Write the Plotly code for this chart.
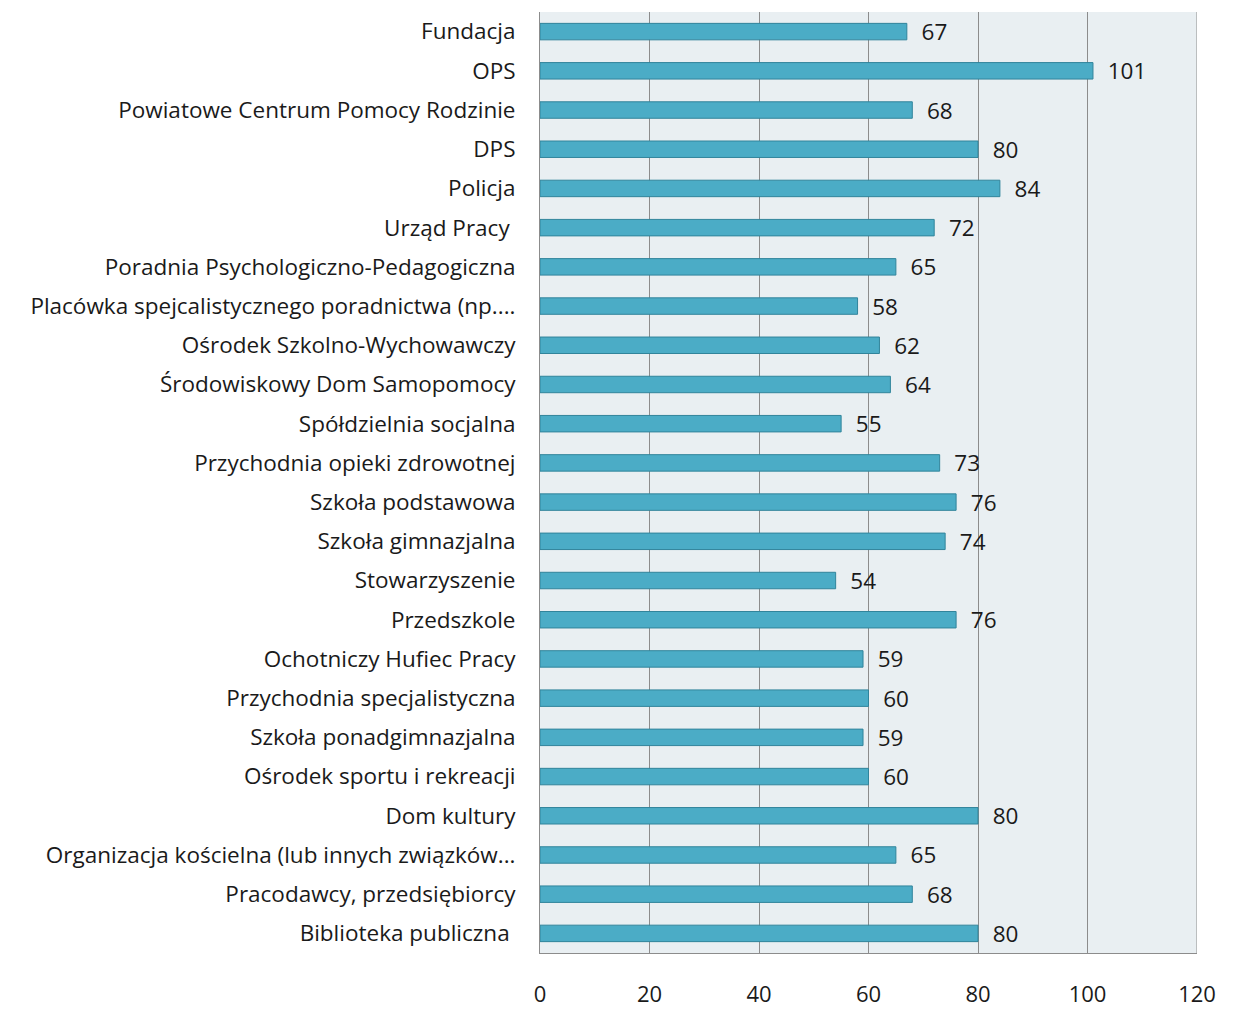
import plotly.graph_objects as go

categories = [
    "Fundacja",
    "OPS",
    "Powiatowe Centrum Pomocy Rodzinie",
    "DPS",
    "Policja",
    "Urząd Pracy ",
    "Poradnia Psychologiczno-Pedagogiczna",
    "Placówka spejcalistycznego poradnictwa (np....",
    "Ośrodek Szkolno-Wychowawczy",
    "Środowiskowy Dom Samopomocy",
    "Spółdzielnia socjalna",
    "Przychodnia opieki zdrowotnej",
    "Szkoła podstawowa",
    "Szkoła gimnazjalna",
    "Stowarzyszenie",
    "Przedszkole",
    "Ochotniczy Hufiec Pracy",
    "Przychodnia specjalistyczna",
    "Szkoła ponadgimnazjalna",
    "Ośrodek sportu i rekreacji",
    "Dom kultury",
    "Organizacja kościelna (lub innych związków...",
    "Pracodawcy, przedsiębiorcy",
    "Biblioteka publiczna ",
]
values = [67, 101, 68, 80, 84, 72, 65, 58, 62, 64, 55, 73, 76, 74, 54, 76,
          59, 60, 59, 60, 80, 65, 68, 80]
x_ticks = [0, 20, 40, 60, 80, 100, 120]

font_family = "'Open Sans', sans-serif"
fsize = 22.5

fig = go.Figure()
fig.add_trace(go.Bar(
    x=values,
    y=categories,
    orientation="h",
    marker=dict(color="#4BACC6", line=dict(color="#31849B", width=1)),
    text=["  " + str(v) for v in values],
    textposition="outside",
    constraintext="none",
    cliponaxis=False,
    textfont=dict(size=fsize, color="#1a1a1a", family=font_family),
))

# right border of the plot area
fig.add_shape(type="line", xref="x", yref="paper", x0=120, x1=120, y0=0, y1=1,
              line=dict(color="#8c8c8c", width=1))

fig.update_layout(
    width=1241,
    height=1001,
    margin=dict(l=532, r=52, t=4, b=56, autoexpand=False),
    paper_bgcolor="white",
    plot_bgcolor="#E9EFF2",
    bargap=0.58,
    showlegend=False,
    font=dict(family=font_family, size=fsize, color="#1a1a1a"),
    xaxis=dict(
        range=[0, 120],
        tickvals=x_ticks,
        showgrid=True,
        gridcolor="#8c8c8c",
        gridwidth=1,
        showline=True,
        linecolor="#8c8c8c",
        ticks="outside",
        ticklen=22,
        tickcolor="rgba(0,0,0,0)",
        zeroline=False,
        automargin=False,
        tickfont=dict(size=22),
    ),
    yaxis=dict(
        autorange="reversed",
        showline=True,
        linecolor="#8c8c8c",
        ticks="outside",
        ticklen=19,
        tickcolor="rgba(0,0,0,0)",
        automargin=False,
        tickfont=dict(size=fsize),
    ),
)

fig.write_html("out.html")
